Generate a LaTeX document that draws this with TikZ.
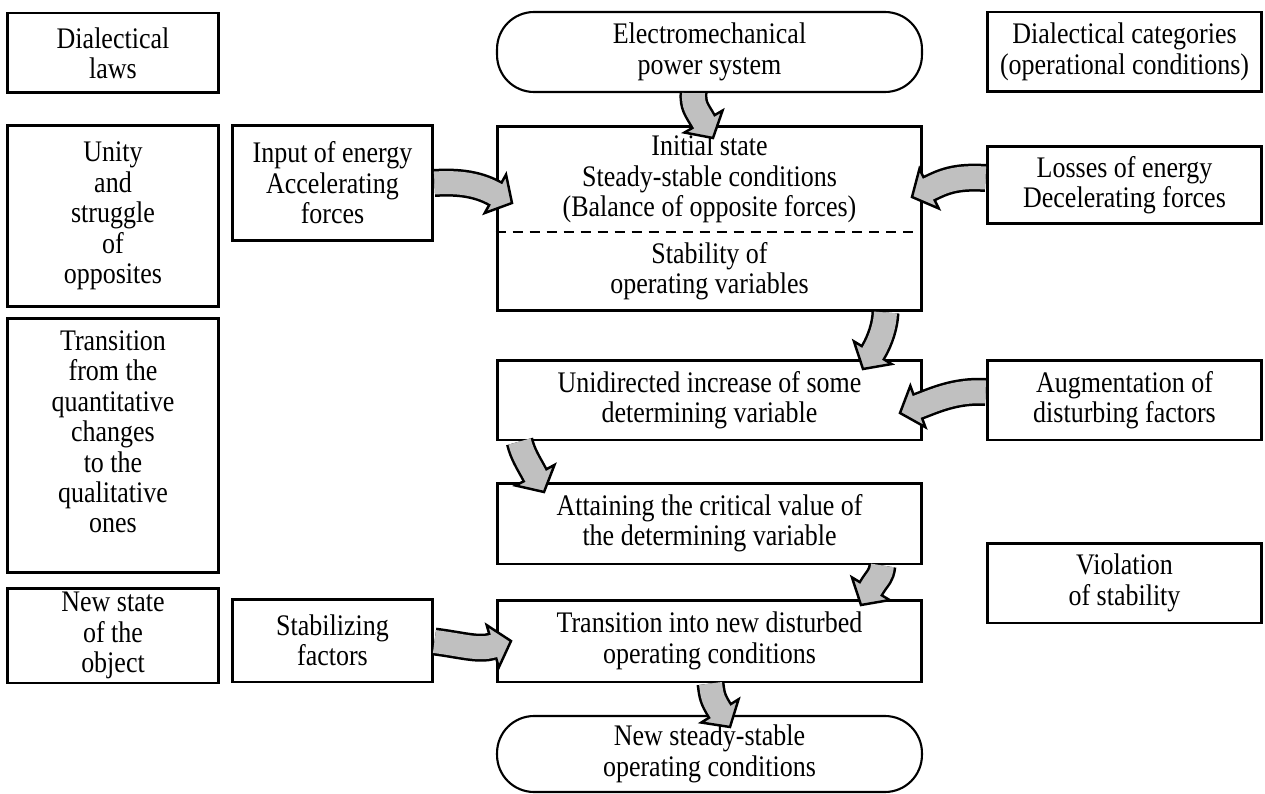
\documentclass[tikz,border=0pt]{standalone}
\usepackage{fontspec}
\setmainfont{Liberation Serif}[FakeStretch=0.87]
\usepackage{tikz}
\usetikzlibrary{calc}
\definecolor{arrowgrey}{RGB}{192,192,192}

% curved block arrow: start, first control, tip, direction of the head
\newcommand{\blockarrow}[4]{%
  \path (#3) ++(#4+180:0.38cm) coordinate (hb) ++(#4+180:0.3cm) coordinate (hc);
  \draw[arrowrim] (#1) .. controls (#2) and (hc) .. (hb);
  \filldraw[arrowhead] ($(hb)+(#4+90:0.44cm)$) -- (#3) -- ($(hb)+(#4-90:0.44cm)$) -- cycle;
  \draw[arrowcore] (#1) .. controls (#2) and (hc) .. (hb) -- ($(hb)!1.5pt!(#3)$);
}

\begin{document}
\begin{tikzpicture}[x=0.02cm,y=-0.02cm,font=\fontsize{17}{17.3}\selectfont]

\tikzset{plainbox/.style={draw,line width=1.7pt,fill=white,align=center,inner sep=2pt},
roundbox/.style={plainbox,line width=1.2pt,rounded corners=0.74cm},
arrowrim/.style={line width=0.56cm,draw=black},
arrowcore/.style={line width=0.46cm,draw=arrowgrey},
arrowhead/.style={fill=arrowgrey,draw=black,line width=1.4pt,line join=miter}}

\useasboundingbox (0,0) rectangle (1265,794);

% law nodes
\node (laws) [plainbox,minimum width=4.24cm,minimum height=1.6cm] at (113,53) {Dialectical\\laws};
\node (unity) [plainbox,minimum width=4.24cm,minimum height=3.64cm] at (113,216) {Unity\\and\\struggle\\of\\opposites};
\node (transL) [plainbox,minimum width=4.24cm,minimum height=5.1cm] at (113,445.5) {};
\node (transLtext) [align=center] at (113,432) {Transition\\from the\\quantitative\\changes\\to the\\qualitative\\ones};
\node (newstate) [plainbox,minimum width=4.24cm,minimum height=1.9cm] at (113,635.5) {New state\\of the\\object};

% force nodes
\node (input) [plainbox,minimum width=4.02cm,minimum height=2.32cm] at (332.5,183) {Input of energy\\Accelerating\\forces};
\node (stab) [plainbox,minimum width=4.02cm,minimum height=1.66cm] at (332.5,640.5) {Stabilizing\\factors};

% main chain
\node (elec) [roundbox,minimum width=8.5cm,minimum height=1.6cm] at (709.5,52) {Electromechanical\\power system};
\node (initBox) [plainbox,minimum width=8.5cm,minimum height=3.7cm] at (709.5,218.5) {};
\node (initTop) [align=center] at (709.5,179) {Initial state\\Steady-stable conditions\\(Balance of opposite forces)};
\node (initBot) [align=center] at (709.5,271.5) {Stability of\\operating variables};
\coordinate (initSplit) at (709.5,232);
\draw[line width=1.7pt,dash pattern=on 0.2cm off 0.14cm] (initBox.west |- initSplit) -- (initBox.east |- initSplit);
\node (unid) [plainbox,minimum width=8.5cm,minimum height=1.6cm] at (709.5,400) {Unidirected increase of some\\determining variable};
\node (attain) [plainbox,minimum width=8.5cm,minimum height=1.62cm] at (709.5,523.5) {Attaining the critical value of\\the determining variable};
\node (transR) [plainbox,minimum width=8.5cm,minimum height=1.64cm] at (709.5,641) {Transition into new disturbed\\operating conditions};
\node (newsteady) [roundbox,minimum width=8.5cm,minimum height=1.52cm] at (709.5,754) {New steady-stable\\operating conditions};

% category nodes
\node (cats) [plainbox,minimum width=5.5cm,minimum height=1.6cm] at (1124.5,52) {Dialectical categories\\(operational conditions)};
\node (losses) [plainbox,minimum width=5.5cm,minimum height=1.56cm] at (1124.5,185) {Losses of energy\\Decelerating forces};
\node (augm) [plainbox,minimum width=5.5cm,minimum height=1.6cm] at (1124.5,400) {Augmentation of\\disturbing factors};
\node (viol) [plainbox,minimum width=5.5cm,minimum height=1.6cm] at (1124.5,583) {Violation\\of stability};

% arrow tips
\coordinate (tipElec) at (713,138);
\coordinate (tipInput) at (512,203);
\coordinate (tipLosses) at (912,197);
\coordinate (tipInit) at (863,369);
\coordinate (tipAugm) at (900,413);
\coordinate (tipUnid) at (544,492);
\coordinate (tipAttain) at (861,605);
\coordinate (tipStab) at (511,641);
\coordinate (tipTrans) at (730,727);

% Arrows
\blockarrow{$(elec.south)+(-16,0)$}{693,106}{tipElec}{-60}
\blockarrow{input.east}{465,181}{tipInput}{-29}
\blockarrow{$(losses.west)+(0,-7)$}{955,176}{tipLosses}{-154}
\blockarrow{$(initBox.south)+(176,0)$}{885,325}{tipInit}{-121}
\blockarrow{$(augm.west)+(0,-8)$}{955,390}{tipAugm}{-160}
\blockarrow{$(unid.south west)+(24,0)$}{523,455}{tipUnid}{-62}
\blockarrow{$(attain.south)+(173,0)$}{881,577}{tipAttain}{-121}
\blockarrow{$(stab.east)+(0,1)$}{462,645}{tipStab}{16}
\blockarrow{$(transR.south)+(1,0)$}{712,695}{tipTrans}{-58}

\end{tikzpicture}
\end{document}
